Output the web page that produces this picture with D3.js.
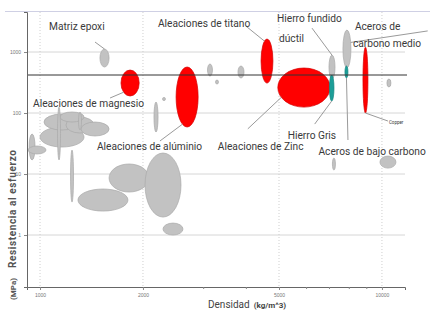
<!DOCTYPE html>
<html>
<head>
<meta charset="utf-8">
<script src="https://cdn.jsdelivr.net/npm/d3@7"></script>
<style>
  body { margin: 0; background: #fff; }
  svg { display: block; font-family: Roboto, "Open Sans", sans-serif; }
</style>
</head>
<body>
<svg width="430" height="322"></svg>
<script>
// Datos: cada mancha es un rango de densidad (kg/m^3) y de resistencia (MPa)
const grupos = [
  'gris','gris','gris','gris','gris','gris','gris','gris','gris','gris',
  'gris','gris','gris','gris','gris','gris','gris','gris','gris','gris',
  'gris','gris','gris','gris','gris',
  'rojo','rojo','rojo','rojo','rojo',
  'verde','verde'
];
const densidadMin = [1000, 1027, 1191, 1318, 1144, 1125, 1296, 1228, 929, 923,
  1291, 1592, 2028, 2289, 1497, 2154, 2282, 3089, 3260, 3793,
  7000, 7690, 10342, 9866, 7164,
  1725, 2500, 4430, 4960, 8800,
  7020, 7795];
const densidadMax = [1345, 1309, 1438, 1592, 1345, 1148, 1322, 1253, 967, 1041,
  1808, 2083, 2584, 2619, 1592, 2214, 2327, 3194, 3326, 3950,
  7290, 8116, 10624, 10990, 7312,
  1950, 2900, 4800, 7050, 9100,
  7240, 7955];
const esfuerzoMin = [27.7, 52.6, 47, 42, 71.2, 17, 52.6, 3.47, 17, 21.3,
  2.47, 5.07, 1.97, 1.0, 568, 48.8, 160, 404, 299, 375,
  360, 550, 267, 12.5, 11.6,
  190, 59, 310, 125, 100,
  157, 375];
const esfuerzoMax = [59, 96.3, 86, 71.2, 104, 125, 104, 24.7, 45.3, 28.8,
  5.68, 14.6, 22.1, 1.57, 1120, 151, 180, 636, 347, 589,
  890, 2300, 361, 19.7, 18.3,
  507, 568, 1630, 547, 1200,
  420, 590];

// Línea horizontal de referencia (MPa)
const esfuerzoLimite = 420;

// Ticks de los ejes
const ticksX = [1000, 2000, 5000, 10000];
const ticksXMenores = [3000, 4000, 6000, 7000, 8000, 9000];
const ticksY = [1, 10, 100, 1000];

// Estilo por grupo
const groupConfig = {
  gris:  { fill: '#c2c2c2', stroke: '#a9a9a9' },
  rojo:  { fill: '#ff0000', stroke: '#d40000' },
  verde: { fill: '#1c9e98', stroke: '#16857f' }
};

// Etiquetas: índice de la mancha, ángulo sobre la elipse, fin de la guía (dx,dy)
// y cada línea de texto como [texto, desplazamiento x, desplazamiento y]
const anotaciones = [
  { i: 14, ang: -90, dx: -9.5, dy: -7, lineas: [['Matriz epoxi', -55.5, -19]] },
  { i: 25, ang: 135, dx: -13.6, dy: 5.8, lineas: [['Aleaciones de magnesio', -90.6, 14.8]] },
  { i: 26, ang: 115, dx: -22.5, dy: 16.8, lineas: [['Aleaciones de alúminio', -85.5, 25.8]] },
  { i: 27, ang: -115, dx: -18.5, dy: -15, lineas: [['Aleaciones de titano', -106.5, -14]] },
  { i: 28, ang: 150, dx: -33.5, dy: 31.5, lineas: [['Aleaciones de Zinc', -63.5, 52.5]] },
  { i: 20, ang: -90, dx: -20, dy: -27, lineas: [['Hierro fundido', -55, -33], ['dúctil', -53, -13]] },
  { i: 30, ang: 90, dx: -17, dy: 23, lineas: [['Hierro Gris', -44, 38]] },
  { i: 31, ang: 90, dx: 1.5, dy: 62, lineas: [['Aceros de bajo carbono', -28, 77]] },
  { i: 21, ang: -20, dx: 77, dy: -11.5, lineas: [['Aceros de', 4.2, -12.5], ['carbono medio', 2.2, 4.5]] },
  { i: 29, ang: 90, dx: 22.5, dy: 8, lineas: [['Copper', 23.5, 11]], chico: true }
];

const svg = d3.select('svg');

// Escalas logarítmicas
const x = d3.scaleLog().domain([916, 11680]).range([27, 405]);
const y = d3.scaleLog().domain([0.1406, 4530]).range([287, 12]);

// Línea superior del marco
svg.append('line')
  .attr('x1', 5).attr('x2', 430).attr('y1', 11.5).attr('y2', 11.5)
  .attr('stroke', '#cfd0e4').attr('stroke-width', 1);

// Rejilla horizontal
svg.append('g').selectAll('line')
  .data(ticksY).enter().append('line')
  .attr('x1', x.range()[0]).attr('x2', x.range()[1])
  .attr('y1', d => y(d)).attr('y2', d => y(d))
  .attr('stroke', '#d6d6d6').attr('stroke-width', 1);

// Rejilla vertical punteada
svg.append('g').selectAll('line')
  .data(ticksX).enter().append('line')
  .attr('x1', d => x(d)).attr('x2', d => x(d))
  .attr('y1', y.range()[1]).attr('y2', y.range()[0])
  .attr('stroke', '#cfcfcf').attr('stroke-width', 1)
  .attr('stroke-dasharray', '1,2');

// Elipses de materiales
const elipses = grupos.map((g, i) => {
  const x0 = x(densidadMin[i]), x1 = x(densidadMax[i]);
  const y0 = y(esfuerzoMax[i]), y1 = y(esfuerzoMin[i]);
  return { g, cx: (x0 + x1) / 2, cy: (y0 + y1) / 2, rx: (x1 - x0) / 2, ry: (y1 - y0) / 2 };
});

svg.append('g').selectAll('ellipse')
  .data(elipses).enter().append('ellipse')
  .attr('cx', d => d.cx).attr('cy', d => d.cy)
  .attr('rx', d => d.rx).attr('ry', d => d.ry)
  .attr('fill', d => groupConfig[d.g].fill)
  .attr('stroke', d => groupConfig[d.g].stroke)
  .attr('stroke-width', 0.7);

// Línea de referencia
svg.append('line')
  .attr('x1', x.range()[0]).attr('x2', x.range()[1] + 2)
  .attr('y1', y(esfuerzoLimite)).attr('y2', y(esfuerzoLimite))
  .attr('stroke', '#333').attr('stroke-width', 1);

// Ejes
svg.append('g')
  .attr('transform', `translate(0,${y.range()[0]})`)
  .call(d3.axisBottom(x).tickValues(ticksX).tickSize(3).tickFormat(d3.format('d')));
svg.append('g')
  .attr('transform', `translate(0,${y.range()[0]})`)
  .call(d3.axisBottom(x).tickValues(ticksXMenores).tickSize(2).tickFormat(''))
  .call(g => g.select('.domain').remove());
svg.append('g')
  .attr('transform', `translate(${x.range()[0]},0)`)
  .call(d3.axisLeft(y).tickValues(ticksY).tickSize(3).tickFormat(d3.format('d')));

svg.selectAll('.domain').attr('stroke', '#666');
svg.selectAll('.tick line').attr('stroke', '#888');
svg.selectAll('.tick text').attr('fill', '#777').style('font-size', '5px');

// Guías y etiquetas
const capaNotas = svg.append('g');
anotaciones.forEach(a => {
  const e = elipses[a.i];
  const t = a.ang * Math.PI / 180;
  const px = e.cx + e.rx * Math.cos(t);
  const py = e.cy + e.ry * Math.sin(t);
  capaNotas.append('line')
    .attr('x1', px).attr('y1', py)
    .attr('x2', px + a.dx).attr('y2', py + a.dy)
    .attr('stroke', '#9a9a9a').attr('stroke-width', 1);
  a.lineas.forEach(([txt, tx, ty]) => {
    capaNotas.append('text')
      .attr('x', px + tx).attr('y', py + ty)
      .attr('fill', '#3a3a3a')
      .style('font-size', a.chico ? '4.5px' : '10.2px')
      .text(txt);
  });
});

// Títulos de los ejes
const tituloX = svg.append('text').attr('x', 208).attr('y', 308).attr('fill', '#444');
tituloX.append('tspan').style('font-size', '10px').text('Densidad');
tituloX.append('tspan').attr('dx', 4).style('font-size', '8px').style('font-weight', 'bold').text('(kg/m^3)');

const tituloY = svg.append('text')
  .attr('transform', 'translate(16,300) rotate(-90)')
  .attr('fill', '#555');
tituloY.append('tspan').style('font-size', '8px').style('font-weight', 'bold').text('(MPa)');
tituloY.append('tspan').attr('dx', 10).style('font-size', '10px').style('font-weight', 'bold')
  .style('letter-spacing', '0.6px').text('Resistencia al esfuerzo');
</script>
</body>
</html>
